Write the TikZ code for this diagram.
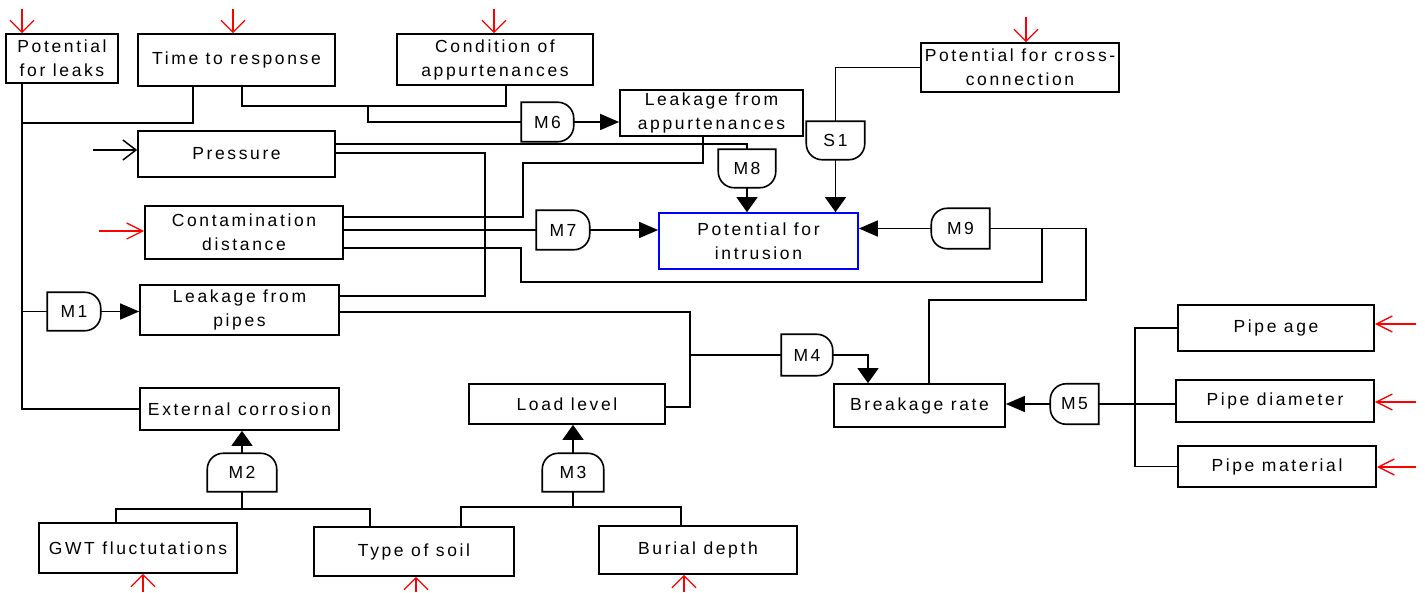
\documentclass[tikz,border=0pt]{standalone}
\usepackage{fontspec}
\setmainfont{Liberation Sans}[LetterSpace=15]
\usepackage{tikz}
\usetikzlibrary{arrows.meta}

% outline of a gate: the two middle corners are rounded
\newcommand{\drawgate}[5]{%
  \draw[gate line] (#1.#2) [rounded corners=16pt] -- (#1.#3) -- (#1.#4) [sharp corners] -- (#1.#5) -- cycle;}
\newcommand{\gateE}[1]{\drawgate{#1}{north west}{north east}{south east}{south west}}
\newcommand{\gateW}[1]{\drawgate{#1}{south east}{south west}{north west}{north east}}
\newcommand{\gateN}[1]{\drawgate{#1}{south west}{north west}{north east}{south east}}
\newcommand{\gateS}[1]{\drawgate{#1}{north east}{south east}{south west}{north west}}

\begin{document}
\begin{tikzpicture}[x=1pt, y=-1pt, line width=1.5pt,
    every node/.style={font=\fontsize{17.5}{24}\selectfont},
    factor/.style={rectangle, draw, line width=1.7pt, inner sep=2pt, align=center},
    gate/.style={rectangle, inner sep=0pt},
    gate line/.style={line width=1.6pt},
    flow/.style={-{Triangle[length=19pt,width=16pt]}},
    flow v/.style={-{Triangle[length=15pt,width=21pt]}},
    input/.style={red, line width=1.3pt, -{Straight Barb[length=16pt,width=16pt]}},
    input v/.style={red, line width=1.3pt, -{Straight Barb[length=12pt,width=24pt]}},
    outer/.style={-{Straight Barb[length=13pt,width=20pt]}}]
        \useasboundingbox (0,0) rectangle (1425,592);

        % factors
        \node[factor, minimum width=112, minimum height=49] (f_1) at (62,58.5)
            {Potential\\for leaks};
        \node[factor, minimum width=197, minimum height=52] (f_2) at (236.5,60)
            {Time to response};
        \node[factor, minimum width=196, minimum height=51] (f_3) at (495,59.5)
            {Condition of\\appurtenances};
        \node[factor, minimum width=198, minimum height=49] (f_4) at (1020,67.5)
            {Potential for cross-\\connection};
        \node[factor, minimum width=183, minimum height=46] (f_5) at (711.5,113)
            {Leakage from\\appurtenances};
        \node[factor, minimum width=197, minimum height=46] (f_6) at (236.5,154)
            {Pressure};
        \node[factor, minimum width=198, minimum height=53] (f_7) at (244,232.5)
            {Contamination\\distance};
        \node[factor, draw=blue, minimum width=199, minimum height=56] (f_8) at (758.5,241)
            {Potential for\\intrusion};
        \node[factor, minimum width=199, minimum height=50] (f_9) at (239.5,310)
            {Leakage from\\pipes};
        \node[factor, minimum width=199, minimum height=42] (f_10) at (239.5,409)
            {External corrosion};
        \node[factor, minimum width=196, minimum height=40] (f_11) at (567,404)
            {Load level};
        \node[factor, minimum width=171, minimum height=43] (f_12) at (919.5,405.5)
            {Breakage rate};
        \node[factor, minimum width=198, minimum height=50] (f_13) at (138,548)
            {GWT fluctutations};
        \node[factor, minimum width=200, minimum height=49] (f_14) at (414,551.5)
            {Type of soil};
        \node[factor, minimum width=198, minimum height=48] (f_15) at (698,550)
            {Burial depth};
        \node[factor, minimum width=196, minimum height=46] (f_16) at (1276,328)
            {Pipe age};
        \node[factor, minimum width=198, minimum height=42] (f_17) at (1275,401)
            {Pipe diameter};
        \node[factor, minimum width=198, minimum height=41] (f_18) at (1277,466.5)
            {Pipe material};

        % gates
        \node[gate, minimum width=52, minimum height=37] (m_1) at (74,311.5) {M1};
        \node[gate, minimum width=68, minimum height=37] (m_2) at (242,472.5) {M2};
        \node[gate, minimum width=60, minimum height=37] (m_3) at (573,472.5) {M3};
        \node[gate, minimum width=50, minimum height=40] (m_4) at (807,355) {M4};
        \node[gate, minimum width=47, minimum height=39] (m_5) at (1074.5,404) {M5};
        \node[gate, minimum width=51, minimum height=38] (m_6) at (547.5,122) {M6};
        \node[gate, minimum width=52, minimum height=38] (m_7) at (563,230) {M7};
        \node[gate, minimum width=56, minimum height=37] (m_8) at (747,168.5) {M8};
        \node[gate, minimum width=57, minimum height=39] (m_9) at (960.5,228.5) {M9};
        \node[gate, minimum width=57, minimum height=37] (s_1) at (835.5,140.5) {S1};

        \gateE{m_1} \gateN{m_2} \gateN{m_3} \gateE{m_4} \gateW{m_5}
        \gateE{m_6} \gateE{m_7} \gateS{m_8} \gateW{m_9} \gateS{s_1}

        % inputs from outside
        \coordinate (in_1) at (22,9);
        \coordinate (in_2) at (233,9);
        \coordinate (in_3) at (494,9);
        \coordinate (in_4) at (1026,17);
        \coordinate (in_5) at (99,231);
        \coordinate (in_6) at (143,592);
        \coordinate (in_7) at (416,592);
        \coordinate (in_8) at (684,592);
        \coordinate (in_9) at (1416,324);
        \coordinate (in_10) at (1416,402);
        \coordinate (in_11) at (1416,467);
        \coordinate (in_12) at (93,150);

        \draw[input v] (in_1) -- (f_1.north -| in_1);
        \draw[input v] (in_2) -- (f_2.north -| in_2);
        \draw[input v] (in_3) -- (f_3.north -| in_3);
        \draw[input v] (in_4) -- (f_4.north -| in_4);
        \draw[input] (in_5) -- (f_7.west |- in_5);
        \draw[input v] (in_6) -- (f_13.south -| in_6);
        \draw[input v] (in_7) -- (f_14.south -| in_7);
        \draw[input v] (in_8) -- (f_15.south -| in_8);
        \draw[input] (in_9) -- (f_16.east |- in_9);
        \draw[input] (in_10) -- (f_17.east |- in_10);
        \draw[input] (in_11) -- (f_18.east |- in_11);
        \draw[outer] (in_12) -- (f_6.west |- in_12);

        % junctions
        \coordinate (j_1) at (22,123);
        \coordinate (j_2) at (368,106);
        \coordinate (j_3) at (485,296);
        \coordinate (j_4) at (523,163);
        \coordinate (j_5) at (521,282);
        \coordinate (j_6) at (1042,228.5);
        \coordinate (j_7) at (1086,300);
        \coordinate (j_8) at (690,355);
        \coordinate (j_9) at (1135,404);
        \coordinate (j_10) at (242,509);
        \coordinate (j_11) at (573,507);

        \draw (f_1.south -| j_1) -- (j_1) |- (f_10.west);
        \draw (f_2.south -| 193,0) |- (j_1);
        \draw (f_2.south -| 242,0) |- (j_2) -| (f_3.south -| 506,0);
        \draw (j_2) |- (m_6.west);
        \draw[flow] (m_6.east) -- (f_5.west |- m_6.east);
        \draw (j_1 |- m_1.west) -- (m_1.west);
        \draw[flow] (m_1.east) -- (f_9.west |- m_1.east);

        \draw (f_6.east |- 0,144) -| (m_8.north);
        \draw (f_6.east |- 0,153) -| (j_3) -- (f_9.east |- j_3);
        \draw (f_5.south -| 703,0) |- (j_4) |- (f_7.east |- 0,217);
        \draw (f_7.east |- m_7.west) -- (m_7.west);
        \draw[flow] (m_7.east) -- (f_8.west |- m_7.east);
        \draw (f_7.east |- 0,248) -| (j_5) -| (j_6);

        \draw[flow v] (m_8.south) -- (f_8.north -| m_8.south);
        \draw (s_1.north) |- (f_4.west);
        \draw[flow v] (s_1.south) -- (f_8.north -| s_1.south);

        \draw[flow] (m_9.west) -- (f_8.east |- m_9.west);
        \draw (m_9.east) -| (j_7) -| (f_12.north -| 929,0);

        \draw (f_9.east |- 0,312) -| (j_8) |- (f_11.east |- 0,407);
        \draw (j_8) -- (m_4.west);
        \draw[flow v] (m_4.east) -| (f_12.north -| 868,0);

        \draw[flow] (m_5.west) -- (f_12.east |- m_5.west);
        \draw (m_5.east) -- (f_17.west |- m_5.east);
        \draw (f_16.west) -| (j_9) |- (f_18.west);

        \draw[flow v] (m_2.north) -- (f_10.south -| m_2.north);
        \draw (m_2.south) -- (j_10);
        \draw (f_13.north -| 116,0) |- (j_10) -| (f_14.north -| 370,0);

        \draw[flow v] (m_3.north) -- (f_11.south -| m_3.north);
        \draw (m_3.south) -- (j_11);
        \draw (f_14.north -| 461,0) |- (j_11) -| (f_15.north -| 681,0);

    \end{tikzpicture}
\end{document}
